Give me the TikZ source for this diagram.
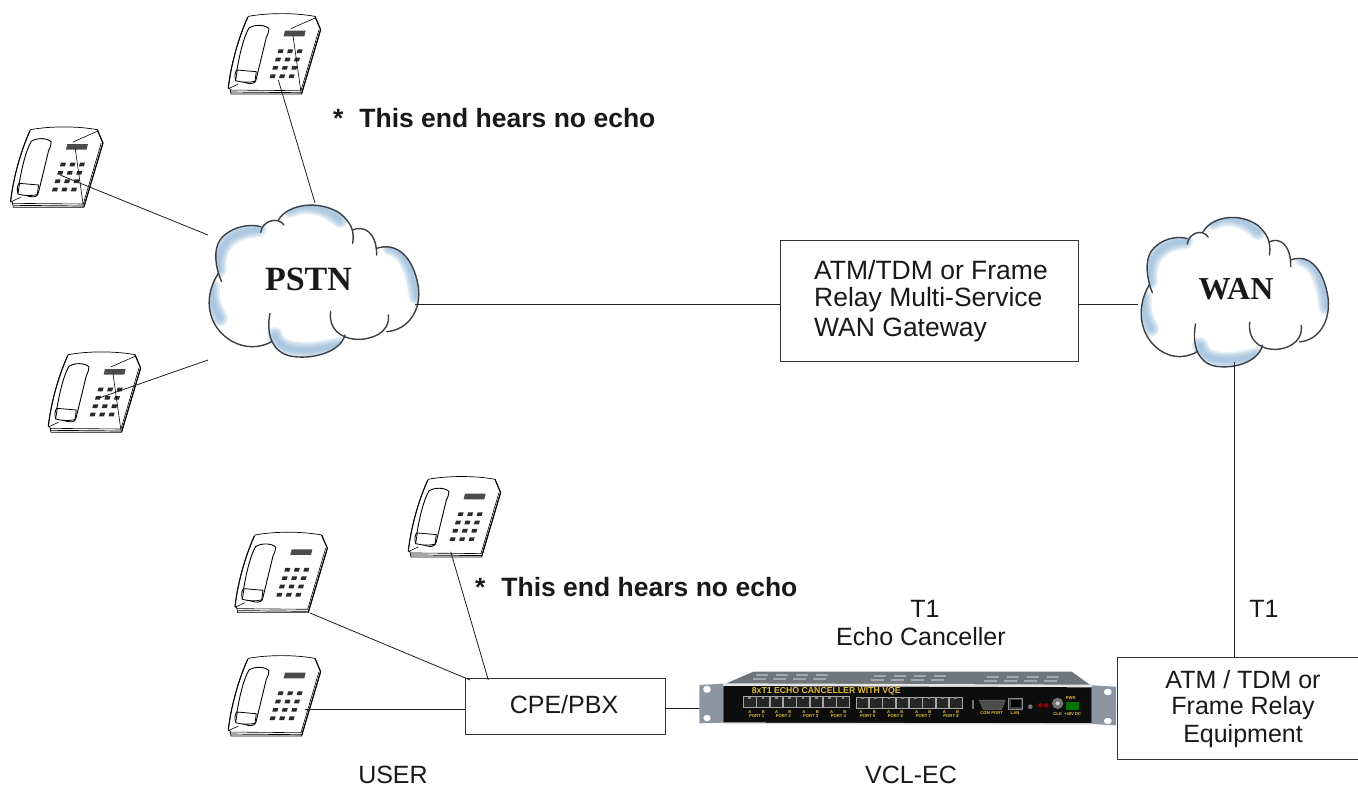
\documentclass[tikz,border=0pt]{standalone}
\usepackage{fontspec}
\setmainfont{Liberation Sans}
\newfontfamily\serifb{Liberation Serif}[BoldFont={Liberation Serif Bold}]
\definecolor{cloudblue}{HTML}{8DB3D6}
\definecolor{cloudline}{HTML}{3A4046}
\definecolor{keyc}{HTML}{2B2B2B}
\definecolor{earc}{HTML}{8C96A2}
\definecolor{lidc}{HTML}{70757A}
\definecolor{ventc}{HTML}{A3A8AC}
\definecolor{amber}{HTML}{E0BC3C}
\tikzset{
  wire/.style={draw=black!88,line width=0.8pt},
  boxn/.style={draw=black!80,line width=0.9pt,inner sep=0pt,fill=white},
  lab/.style={font=\fontsize{25}{30}\selectfont,text=black!90,inner sep=0pt},
  labg/.style={font=\fontsize{26.5}{31}\selectfont,text=black!90,inner sep=0pt,anchor=west},
  note/.style={font=\fontsize{26.5}{31}\selectfont\bfseries,text=black!90,inner sep=0pt,anchor=west},
  cloudt/.style={font=\serifb\fontsize{34}{40}\selectfont\bfseries,text=black!90,inner sep=0pt},
  tiny/.style={font=\fontsize{4.2}{5}\selectfont\bfseries,text=amber,inner sep=0pt},
  phone/.pic={
    \draw[line width=0.7pt,fill=white] (0,220) .. controls (8,150) and (30,70) .. (60,5)
      .. controls (120,-6) and (200,-6) .. (260,5) -- (277,45) -- (220,238) -- (8,238) -- (5,222) -- cycle;
    \draw[line width=0.6pt] (5,226) -- (218,228) -- (272,45);
    \draw[line width=1.1pt] (260,5) -- (277,45) -- (220,236);
    \draw[line width=0.7pt] (8,232) -- (218,234);
    \draw[line width=1pt] (0,220) .. controls (8,150) and (30,70) .. (58,8);
    \draw[line width=0.9pt,fill=white] (22,196) .. controls (18,185) and (20,172) .. (26,165)
      .. controls (35,115) and (45,70) .. (62,40) .. controls (80,28) and (112,30) .. (122,42)
      .. controls (122,52) and (118,60) .. (114,68) -- (84,192) .. controls (82,204) and (75,208) .. (60,206) -- cycle;
    \draw[line width=0.8pt,fill=white] (27,166) -- (84,171) -- (80,200) .. controls (60,204) and (40,203) .. (22,198) -- cycle;
    \draw[line width=0.6pt] (0,222) -- (30,208);
    \fill[keyc!85] (170,48) -- (232,48) -- (228,65) -- (166,65) -- cycle;
    \foreach \r in {0,1,2,3} \foreach \c in {0,1,2}
      \fill[keyc] ({149+\c*28.5-\r*8},{104+\r*25}) ++(2,0) -- ++(15,0) -- ++(-3,11) -- ++(-15,0) -- cycle;
  },
  cloudy/.pic={
    \path[fill=white] (665,845) .. controls (645,800) and (640,750) .. (660,720)
      .. controls (690,680) and (750,670) .. (782,680) .. controls (795,660) and (825,655) .. (840,660)
      .. controls (865,610) and (960,600) .. (1020,640) .. controls (1040,655) and (1052,670) .. (1058,690)
      .. controls (1090,675) and (1125,695) .. (1130,745) .. controls (1190,725) and (1240,770) .. (1255,860)
      .. controls (1265,930) and (1225,990) .. (1160,995) .. controls (1120,1025) and (1065,1025) .. (1035,1005)
      .. controls (1020,1060) and (930,1080) .. (870,1068) .. controls (840,1060) and (825,1045) .. (815,1025)
      .. controls (770,1050) and (710,1045) .. (665,1000) .. controls (625,960) and (610,890) .. (655,820) -- cycle;
    \begin{scope}
      \clip (665,845) .. controls (645,800) and (640,750) .. (660,720)
      .. controls (690,680) and (750,670) .. (782,680) .. controls (795,660) and (825,655) .. (840,660)
      .. controls (865,610) and (960,600) .. (1020,640) .. controls (1040,655) and (1052,670) .. (1058,690)
      .. controls (1090,675) and (1125,695) .. (1130,745) .. controls (1190,725) and (1240,770) .. (1255,860)
      .. controls (1265,930) and (1225,990) .. (1160,995) .. controls (1120,1025) and (1065,1025) .. (1035,1005)
      .. controls (1020,1060) and (930,1080) .. (870,1068) .. controls (840,1060) and (825,1045) .. (815,1025)
      .. controls (770,1050) and (710,1045) .. (665,1000) .. controls (625,960) and (610,890) .. (655,820) -- cycle;
      \foreach \w in {16,13,10,7,4}{
        \draw[cloudblue,opacity=.22,line width=\w pt,line cap=round]
          (656,810) .. controls (650,760) and (670,695) .. (775,688);
        \draw[cloudblue,opacity=.22,line width=\w pt,line cap=round]
          (870,630) .. controls (900,610) and (970,612) .. (1020,660);
        \draw[cloudblue,opacity=.22,line width=\w pt,line cap=round]
          (1170,742) .. controls (1210,750) and (1240,800) .. (1250,890);
        \draw[cloudblue,opacity=.22,line width=\w pt,line cap=round]
          (825,1005) .. controls (835,1060) and (930,1058) .. (1020,1035);
        \draw[cloudblue,opacity=.22,line width=\w pt,line cap=round]
          (636,860) .. controls (632,900) and (645,930) .. (660,955);
      }
    \end{scope}
    \begin{scope}[cloudline,line width=1.4pt,line cap=round]
      \draw (665,845) .. controls (645,800) and (640,750) .. (660,720) .. controls (690,680) and (750,670) .. (782,680);
      \draw (782,697) .. controls (788,660) and (835,650) .. (852,675);
      \draw (835,660) .. controls (865,610) and (960,600) .. (1020,640) .. controls (1050,665) and (1065,690) .. (1058,730);
      \draw (1058,690) .. controls (1090,675) and (1130,695) .. (1130,765);
      \draw (1130,745) .. controls (1190,725) and (1240,770) .. (1255,860) .. controls (1265,930) and (1225,990) .. (1160,995);
      \draw (1165,945) .. controls (1172,1000) and (1110,1020) .. (1070,1018) .. controls (1020,1015) and (985,985) .. (992,935);
      \draw (1035,1005) .. controls (1020,1060) and (930,1080) .. (870,1068) .. controls (815,1055) and (798,1000) .. (810,940);
      \draw (815,1025) .. controls (770,1050) and (710,1045) .. (665,1000) .. controls (625,960) and (610,890) .. (655,820);
    \end{scope}
  }
}
\newcommand{\vents}[3]{\foreach \i in {0,1,2,3}{
  \fill[ventc] ({#1+\i*60},#2) rectangle ++(36,5);
  \fill[ventc] ({#1+\i*60-8},{#2+12}) rectangle ++(38,5);}}
\begin{document}
\begin{tikzpicture}[x=1pt,y=-1pt]
\useasboundingbox[fill=white] (0,0) rectangle (1358,787);
% phones
\pic[scale=1/3] (ph1) at (228.3,14.7) {phone};
\pic[scale=1/3] (ph2) at (10.6,128) {phone};
\pic[scale=1/3] (ph3) at (48.3,353) {phone};
\pic[scale=1/3] (ph4) at (408.3,477.6) {phone};
\pic[scale=1/3] (ph5) at (235,533.3) {phone};
\pic[scale=1/3] (ph6) at (228.3,656.7) {phone};
\begin{scope}[shift={(228.3,14.7)},scale=1/3,line width=0.6pt]
  \draw (187,42) -- (260,10); \draw (194,62) -- (218,232);
\end{scope}
\begin{scope}[shift={(10.6,128)},scale=1/3,line width=0.6pt]
  \draw (187,42) -- (260,10); \draw (194,62) -- (218,232);
\end{scope}
\begin{scope}[shift={(48.3,353)},scale=1/3,line width=0.6pt]
  \draw (187,42) -- (260,10); \draw (194,62) -- (218,232);
\end{scope}
% clouds
\pic[xscale=1/3,yscale=1/3] at (0,0) {cloudy};
\pic[xscale=0.2977,yscale=0.3277] at (954.4,15.8) {cloudy};
\node[cloudt] (pstn) at (308.5,279) {PSTN};
\node[cloudt,font=\serifb\fontsize{32}{38}\selectfont\bfseries] (wan) at (1236,289) {WAN};
% boxes
\node[boxn,minimum width=298pt,minimum height=121pt] (gw) at (929,300.5) {};
\node[boxn,minimum width=200pt,minimum height=56pt] (cpe) at (565,706) {};
\node[boxn,minimum width=241pt,minimum height=102pt] (eq) at (1238,708) {};
\node[labg] (gw1) at (814,270) {ATM/TDM or Frame};
\node[labg] (gw2) at (814,300) {Relay Multi-Service};
\node[labg] (gw3) at (814,330) {WAN Gateway};
\node[lab] (cpet) at (564,705) {CPE/PBX};
\node[lab] (eq1) at (1243,680) {ATM / TDM or};
\node[lab] (eq2) at (1243,708) {Frame Relay};
\node[lab] (eq3) at (1243,736) {Equipment};
\node[lab] (t1a) at (925,609) {T1};
\node[lab] (ec) at (921,637) {Echo Canceller};
\node[lab] (t1b) at (1264,609) {T1};
\node[lab] (user) at (393,775) {USER};
\node[lab] (vcl) at (911,774.5) {VCL-EC};
\node[note] (n1) at (333,118) {*\hspace{0.6em}This end hears no echo};
\node[note] (n2) at (475,587) {*\hspace{0.6em}This end hears no echo};
% connector ends
\coordinate (c1a) at (278.3,80); \coordinate (c1b) at (315,203);
\coordinate (c2a) at (60,175); \coordinate (c2b) at (208,235);
\coordinate (c3a) at (98.3,398.3); \coordinate (c3b) at (208,360);
\coordinate (pe) at (415,304);
\coordinate (we) at (1138,304);
\coordinate (ws) at (1234,362);
\coordinate (c5a) at (310,613); \coordinate (c5b) at (470,680);
\coordinate (c6a) at (305,709);
\coordinate (c4a) at (450.7,551.7); \coordinate (c4b) at (488.3,680);
\coordinate (va) at (700,708); \coordinate (vb) at (1117,708);
\draw[wire] (c1a) -- (c1b);
\draw[wire] (c2a) -- (c2b);
\draw[wire] (c3a) -- (c3b);
\draw[wire] (pe) -- (gw.west |- pe);
\draw[wire] (gw.east |- we) -- (we);
\draw[wire] (ws) -- (ws |- eq.north);
\draw[wire] (c5a) -- (c5b);
\draw[wire] (c4a) -- (c4b);
\draw[wire] (c6a) -- (cpe.west |- c6a);
\draw[wire] (cpe.east |- va) -- (va);
\draw[wire] (vb) -- (eq.west |- vb);
% rack unit
\begin{scope}[shift={(690,650)},scale=1/3]
  \fill[lidc] (100,104) -- (190,65) -- (1145,65) -- (1205,108) -- cycle;
  \vents{198}{73}{0}\vents{552}{76}{0}\vents{890}{78}{0}
  \fill[earc] (28,105) -- (100,101) -- (100,218) -- (28,220) -- cycle;
  \fill[earc] (1205,106) -- (1278,110) -- (1278,226) -- (1205,222) -- cycle;
  \fill[white,rounded corners=3pt] (40,108) rectangle (62,128);
  \fill[white,rounded corners=3pt] (40,195) rectangle (62,213);
  \fill[white,rounded corners=3pt] (1242,117) rectangle (1265,135);
  \fill[white,rounded corners=3pt] (1242,204) rectangle (1265,222);
  \fill[black!10] (100,100) -- (1205,104) -- (1205,112) -- (100,108) -- cycle;
  \fill[black!95] (100,108) -- (1205,112) -- (1205,220) -- (100,218) -- cycle;
  \fill[black!12] (100,218) -- (1205,220) -- (1205,224) -- (100,222) -- cycle;
  \foreach \x in {160,200,...,440}{\draw[black!35,fill=black!85,line width=.5pt] (\x,140) rectangle ++(38,32);
     \fill[black!45] (\x+15,140) rectangle ++(8,6);}
  \foreach \x in {498,538,...,778}{\draw[black!35,fill=black!85,line width=.5pt] (\x,142) rectangle ++(38,33);
     \fill[black!45] (\x+15,142) rectangle ++(8,6);}
  \node[font=\fontsize{8.7}{10}\selectfont\bfseries,text=amber,inner sep=0pt,anchor=west] (vt) at (185,124) {8xT1 ECHO CANCELLER WITH VQE};
  \foreach \n/\x in {1/200,2/280,3/362,4/445,5/533,6/616,7/700,8/783}{
    \node[tiny] at (\x,199) {PORT \n};
    \node[tiny] at (\x-20,185) {A};
    \node[tiny] at (\x+20,185) {B};
  }
  \fill[black!55] (845,150) rectangle ++(8,26);
  \draw[black!55,fill=black!70,line width=.5pt] (868,150) -- (945,150) -- (935,178) -- (880,178) -- cycle;
  \node[tiny] (com) at (905,190) {COM PORT};
  \draw[black!45,fill=black!75,line width=.5pt] (955,144) rectangle (998,178);
  \fill[black] (962,150) rectangle (992,172);
  \node[tiny] (lan) at (975,190) {LAN};
  \fill[black!55] (1021,170) circle (7);
  \fill[red!55!black] (1051,166) circle (7);
  \fill[red!55!black] (1069,166) circle (7);
  \fill[black!55] (1103,160) circle (17);
  \fill[black!20] (1103,160) circle (6);
  \node[tiny] (clk) at (1103,192) {CLK};
  \fill[green!45!black] (1128,155) rectangle (1168,180);
  \node[tiny] (pwr) at (1142,143) {PWR};
  \node[tiny] (dc) at (1148,192) {+48V DC};
\end{scope}
\end{tikzpicture}
\end{document}
